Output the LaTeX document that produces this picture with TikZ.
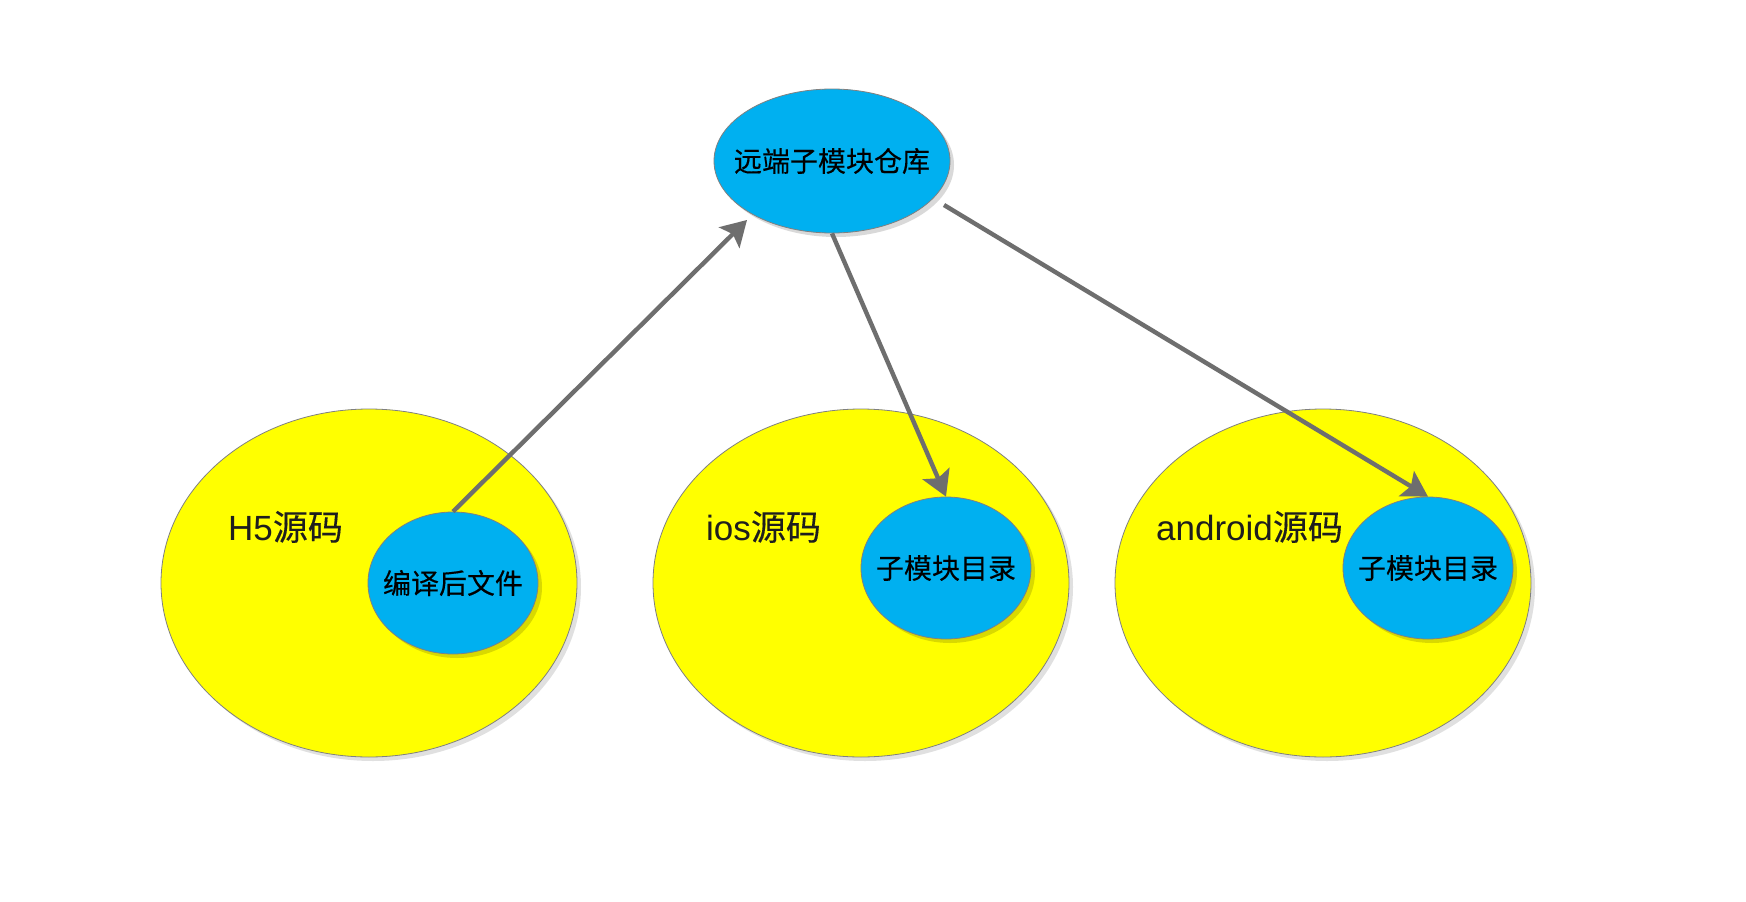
\documentclass[tikz,border=0pt]{standalone}
\usepackage{fontspec}
\setmainfont{Liberation Sans}
\newfontfamily\cjk[FakeBold=0.25]{Noto Sans CJK SC}
\usetikzlibrary{shapes.geometric,arrows.meta,shadows}
\definecolor{ybody}{HTML}{FFFF00}
\definecolor{bbody}{HTML}{00B0F0}
\definecolor{edgegray}{HTML}{808080}
\definecolor{arrowgray}{HTML}{6E6E6E}
\definecolor{labeltext}{HTML}{1E1E1E}
\tikzset{
  outer/.style={ellipse,fill=ybody,draw=edgegray,line width=0.8pt,
    minimum width=416pt,minimum height=348pt,inner sep=0pt,
    drop shadow={shadow xshift=4pt,shadow yshift=-4pt,opacity=0.12,fill=black}},
  inner/.style={ellipse,fill=bbody,draw=edgegray,line width=0.8pt,
    minimum width=170pt,minimum height=142pt,inner sep=0pt,
    font=\cjk\fontsize{28}{32}\selectfont,text=black,
    drop shadow={shadow xshift=4pt,shadow yshift=-4pt,opacity=0.15,fill=black}},
  srclabel/.style={anchor=base west,inner sep=0pt,text=labeltext,
    font=\fontsize{35}{40}\selectfont},
  flow/.style={draw=arrowgray,line width=4.4pt,
    -{Stealth[length=25pt,width=29pt,inset=5pt]}}
}
\begin{document}
\begin{tikzpicture}[x=1pt,y=-1pt]
\useasboundingbox[fill=white] (0,0) rectangle (1746,902);
% outer source ellipses
\node[outer] (h5) at (369,583) {};
\node[outer] (ios) at (861,583) {};
\node[outer] (android) at (1323,583) {};
% labels
\node[srclabel] (h5l) at (228,540) {H5{\cjk 源码}};
\node[srclabel] (iosl) at (706,540) {ios{\cjk 源码}};
\node[srclabel] (andl) at (1156,540) {android{\cjk 源码}};
% blue ellipses
\node[inner,minimum width=236pt,minimum height=144pt] (remote) at (832,161) {\makebox[0pt]{远端子模块仓库}};
\node[inner] (h5c) at (453,583) {\makebox[0pt]{编译后文件}};
\node[inner] (iosc) at (946,568) {\makebox[0pt]{子模块目录}};
\node[inner] (andc) at (1428,568) {\makebox[0pt]{子模块目录}};
% connector ends
\coordinate (t1) at (747,220);
\coordinate (s3) at (944,205);
% arrows
\draw[flow] (h5c.north) -- (t1);
\draw[flow] (remote.south) -- (iosc.north);
\draw[flow] (s3) -- (andc.north);
\end{tikzpicture}
\end{document}
